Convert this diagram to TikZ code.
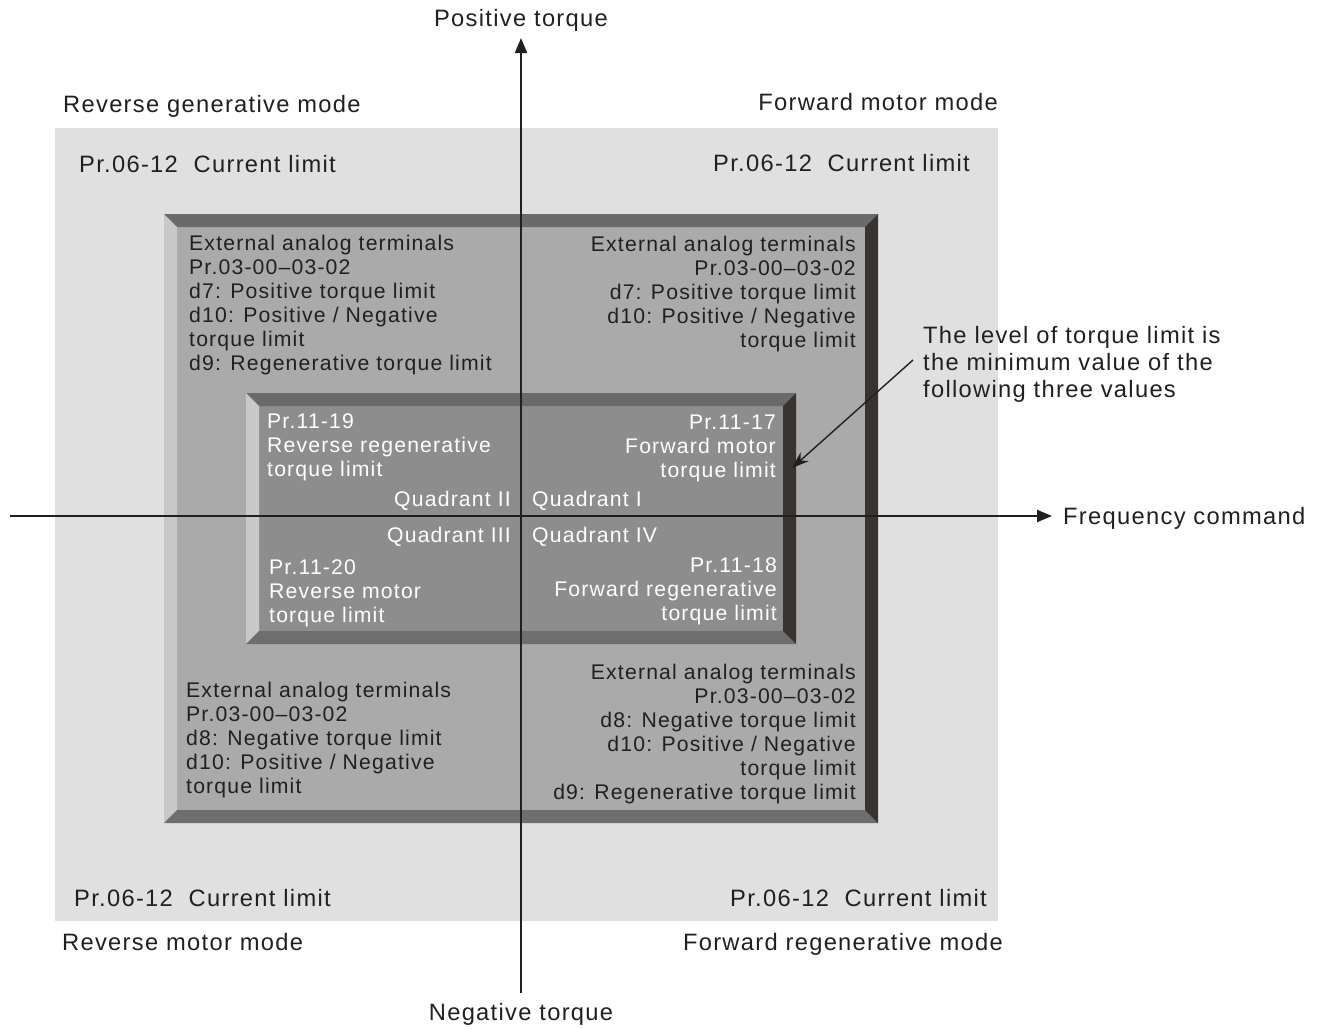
\documentclass[tikz,border=0pt]{standalone}
\usepackage{fontspec}
\setmainfont{Liberation Sans}[LetterSpace=5.5]
\usetikzlibrary{arrows.meta}
\definecolor{ink}{HTML}{231F20}
\definecolor{bglight}{HTML}{E0E0E0}
\definecolor{midface}{HTML}{AAAAAA}
\definecolor{innface}{HTML}{8D8D8D}
\definecolor{bevtop}{HTML}{6A6A6A}
\definecolor{bevleft}{HTML}{C8C8C8}
\definecolor{bevright}{HTML}{373331}
\definecolor{bevbot}{HTML}{6E6E6E}
\tikzset{
  boxtxt/.style={font=\fontsize{21.2}{24}\selectfont, text=ink, inner sep=0pt},
  whitetxt/.style={font=\fontsize{21.2}{24}\selectfont, text=white, inner sep=0pt},
  bigtxt/.style={font=\fontsize{23.7}{27}\selectfont, text=ink, inner sep=0pt},
  axisline/.style={draw=ink, line width=2pt, -{Triangle[length=15pt,width=12pt]}},
  leader/.style={draw=ink, line width=1.4pt, -{Stealth[length=17pt,width=12pt]}},
}
\newcommand{\bevelbox}[5]{%
  \fill[bevtop] (#1,#2) -- (#3,#2) -- (#3-#5,#2+#5) -- (#1+#5,#2+#5) -- cycle;
  \fill[bevleft] (#1,#2) -- (#1+#5,#2+#5) -- (#1+#5,#4-#5) -- (#1,#4) -- cycle;
  \fill[bevbot] (#1,#4) -- (#3,#4) -- (#3-#5,#4-#5) -- (#1+#5,#4-#5) -- cycle;
  \fill[bevright] (#3,#2) -- (#3,#4) -- (#3-#5,#4-#5) -- (#3-#5,#2+#5) -- cycle;
}
% #1 name, #2 style, #3 anchor, #4 x, #5 first baseline y, #6 line step, #7 lines
\newcommand{\textlines}[7]{%
  \foreach \ln [count=\i] in {#7}
    \node[#2, anchor=#3] (#1-\i) at (#4,{#5+#6*(\i-1)}) {\ln};
}
\begin{document}
\begin{tikzpicture}[x=1pt,y=-1pt]
\useasboundingbox (0,0) rectangle (1327,1028);
\fill[white] (0,0) rectangle (1327,1028);
% light background
\fill[bglight] (55,128) rectangle (998,921);
% middle bevelled box
\fill[midface] (164,214) rectangle (878,823);
\bevelbox{164}{214}{878}{823}{13}
% inner bevelled box
\fill[innface] (246,393) rectangle (796,644);
\bevelbox{246}{393}{796}{644}{13}

% axes
\coordinate (ybot) at (521,993);
\coordinate (ytop) at (521,38);
\coordinate (xleft) at (10,516);
\coordinate (xright) at (1052,516);
\draw[axisline] (ybot) -- (ytop);
\draw[axisline] (xleft) -- (xright);

% outer labels
\node[bigtxt, anchor=base] (postq) at (521,26) {Positive torque};
\node[bigtxt, anchor=base] (negtq) at (521,1020) {Negative torque};
\node[bigtxt, anchor=base west] (freq) at (1063,524) {Frequency command};
\node[bigtxt, anchor=base west] (revgen) at (63,112) {Reverse generative mode};
\node[bigtxt, anchor=base east] (fwdmot) at (998,110) {Forward motor mode};
\node[bigtxt, anchor=base west] (revmot) at (62,950) {Reverse motor mode};
\node[bigtxt, anchor=base east] (fwdgen) at (1003,950) {Forward regenerative mode};
\node[bigtxt, anchor=base west] (cl1) at (79,172) {Pr.06-12\ \ Current limit};
\node[bigtxt, anchor=base east] (cl2) at (970,171) {Pr.06-12\ \ Current limit};
\node[bigtxt, anchor=base west] (cl3) at (74,906) {Pr.06-12\ \ Current limit};
\node[bigtxt, anchor=base east] (cl4) at (987,906) {Pr.06-12\ \ Current limit};

% note
\textlines{note}{bigtxt}{base west}{923}{343}{27}
  {The level of torque limit is,the minimum value of the,following three values}
\coordinate (leadstart) at (913,360);
\coordinate (leadend) at (792,468);
\draw[leader] (leadstart) -- (leadend);

% middle box texts
\textlines{tl}{boxtxt}{base west}{189}{250}{24}
  {External analog terminals,Pr.03-00–03-02,d7: Positive torque limit,d10: Positive / Negative,torque limit,d9: Regenerative torque limit}
\textlines{tr}{boxtxt}{base east}{856}{251}{24}
  {External analog terminals,Pr.03-00–03-02,d7: Positive torque limit,d10: Positive / Negative,torque limit}
\textlines{bl}{boxtxt}{base west}{186}{697}{24}
  {External analog terminals,Pr.03-00–03-02,d8: Negative torque limit,d10: Positive / Negative,torque limit}
\textlines{br}{boxtxt}{base east}{856}{679}{24}
  {External analog terminals,Pr.03-00–03-02,d8: Negative torque limit,d10: Positive / Negative,torque limit,d9: Regenerative torque limit}

% inner box texts
\textlines{itl}{whitetxt}{base west}{267}{428}{24}
  {Pr.11-19,Reverse regenerative,torque limit}
\textlines{itr}{whitetxt}{base east}{776}{429}{24}
  {Pr.11-17,Forward motor,torque limit}
\textlines{ibl}{whitetxt}{base west}{269}{574}{24}
  {Pr.11-20,Reverse motor,torque limit}
\textlines{ibr}{whitetxt}{base east}{777}{572}{24}
  {Pr.11-18,Forward regenerative,torque limit}
\node[whitetxt, anchor=base east] (q2) at (511,506) {Quadrant II};
\node[whitetxt, anchor=base west] (q1) at (532,506) {Quadrant I};
\node[whitetxt, anchor=base east] (q3) at (511,542) {Quadrant III};
\node[whitetxt, anchor=base west] (q4) at (532,542) {Quadrant IV};
\end{tikzpicture}
\end{document}
